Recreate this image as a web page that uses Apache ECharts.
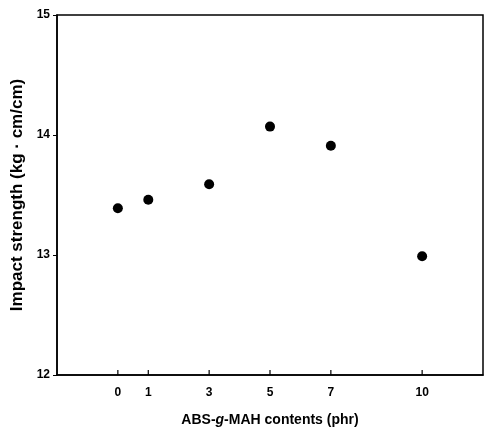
<!DOCTYPE html>
<html>
<head>
<meta charset="utf-8">
<script src="https://cdn.jsdelivr.net/npm/echarts@6/dist/echarts.min.js"></script>
<style>html,body{margin:0;padding:0;background:#fff}#c{width:489px;height:433px}</style>
</head>
<body>
<div id="c"></div>
<script>
var contents = [0, 1, 3, 5, 7, 10];
var impact = [13.39, 13.46, 13.59, 14.07, 13.91, 12.99];
var xTicks = [0, 1, 3, 5, 7, 10];
var yTicks = [12, 13, 14, 15];

var font = 'Liberation Sans, Arial, sans-serif';
var yMin = yTicks[0], yMax = yTicks[yTicks.length - 1];
var chart = echarts.init(document.getElementById('c'), null, {renderer: 'canvas'});
chart.setOption({
  animation: false,
  backgroundColor: '#fff',
  grid: {left: 57, right: 6, top: 15, bottom: 58, show: true, borderColor: '#000', borderWidth: 1.5},
  xAxis: {
    type: 'value', min: -2, max: 12,
    axisLine: {onZero: false, lineStyle: {color: '#000', width: 1.5}},
    axisTick: {show: false},
    axisLabel: {customValues: xTicks, color: '#000', fontWeight: 'bold', fontSize: 12, fontFamily: font, margin: 12},
    splitLine: {show: false},
    name: '{a|ABS-}{b|g}{a|-MAH contents (phr)}',
    nameLocation: 'middle', nameGap: 38,
    nameTextStyle: {
      rich: {
        a: {fontWeight: 'bold', fontSize: 14, fontFamily: font, color: '#000'},
        b: {fontWeight: 'bold', fontStyle: 'italic', fontSize: 14, fontFamily: font, color: '#000'}
      }
    }
  },
  yAxis: {
    type: 'value', min: yMin, max: yMax, interval: 1,
    axisLine: {show: true, onZero: false, lineStyle: {color: '#000', width: 1.5}},
    axisTick: {show: true, inside: false, length: 4, lineStyle: {color: '#000', width: 1}},
    axisLabel: {color: '#000', fontWeight: 'bold', fontSize: 12, fontFamily: font, margin: 7},
    splitLine: {show: false},
    name: 'Impact strength (kg \u00b7 cm/cm)',
    nameLocation: 'middle', nameGap: 29,
    nameTextStyle: {fontWeight: 'bold', fontSize: 17, fontFamily: font, color: '#000'}
  },
  series: [{
    type: 'scatter',
    data: contents.map(function (x, i) { return [x, impact[i]]; }),
    symbol: 'circle', symbolSize: 10,
    itemStyle: {color: '#000', opacity: 1}
  }, {
    type: 'scatter',
    silent: true,
    clip: false,
    data: xTicks.map(function (x) { return [x, yMin]; }),
    symbol: 'rect', symbolSize: [1.2, 5], symbolOffset: [0, -2.5],
    itemStyle: {color: '#000', opacity: 1}
  }]
});
</script>
</body>
</html>
